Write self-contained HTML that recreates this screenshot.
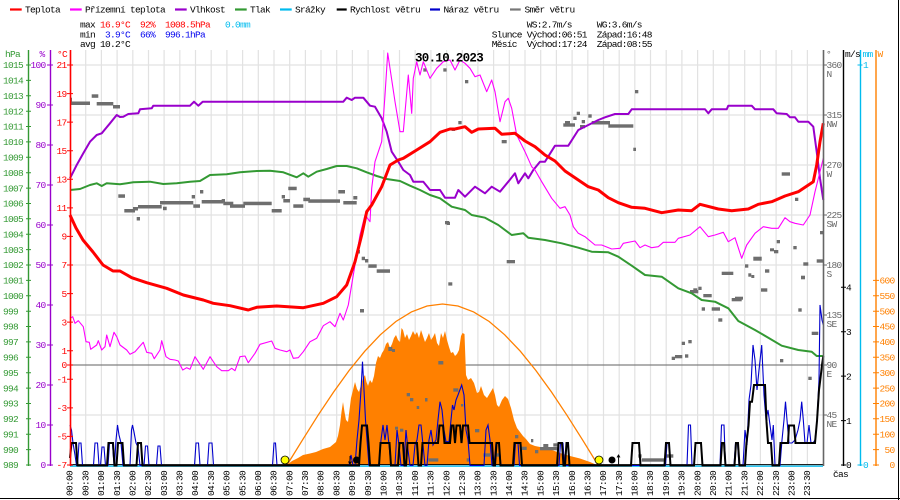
<!DOCTYPE html>
<html><head><meta charset="utf-8"><style>
html,body{margin:0;padding:0;background:#fff;}
svg{display:block;}
text{font-family:"Liberation Mono","DejaVu Sans Mono",monospace;font-size:9.5px;letter-spacing:-0.7px;}
.b{font-weight:bold;font-size:12.5px;letter-spacing:-0.7px;}
</style></head><body>
<svg width="900" height="500" viewBox="0 0 900 500" xmlns="http://www.w3.org/2000/svg">
<rect x="0" y="0" width="900" height="500" fill="#fff"/>
<!-- grid -->
<path d="M85.7 50V465M101.4 50V465M117.1 50V465M132.8 50V465M148.5 50V465M164.1 50V465M179.8 50V465M195.5 50V465M211.2 50V465M226.9 50V465M242.6 50V465M258.3 50V465M274 50V465M289.7 50V465M305.4 50V465M321 50V465M336.7 50V465M352.4 50V465M368.1 50V465M383.8 50V465M399.5 50V465M415.2 50V465M430.9 50V465M446.6 50V465M462.3 50V465M477.9 50V465M493.6 50V465M509.3 50V465M525 50V465M540.7 50V465M556.4 50V465M572.1 50V465M587.8 50V465M603.5 50V465M619.2 50V465M634.8 50V465M650.5 50V465M666.2 50V465M681.9 50V465M697.6 50V465M713.3 50V465M729 50V465M744.7 50V465M760.4 50V465M776.1 50V465M791.7 50V465M807.4 50V465M70 65H823M70 115H823M70 165H823M70 215H823M70 265H823M70 315H823M70 415H823" stroke="#e2e2e2" stroke-width="1.2" fill="none"/>
<line x1="70" y1="365" x2="823" y2="365" stroke="#808080" stroke-width="1.3"/>
<!-- solar -->
<polygon fill="#ff8000" points="287,465 292,461 298,458 303,455 310,453.5 316,452 323,449 330,447 336,442 338,436 340,425 341.5,412 343,402 344.5,412 346,420 348,422 349.5,410 351,398 353,390 355,382 357,389 359,392 361,385 363,378 365,375 366.5,382 368,386 370,380 372,383 374,376 376,363 378,356 380,358 382,353 384,350 386,344 388,342 390,348 392,344 394,338 396,335 398,340 400,342 401.5,328 403,330 405,338 407,334 409,340 411,336 413,331 415,335 417,332 419,338 421,330 423,336 425,342 427,338 429,333 431,340 433,337 435,333 437,343 439,346 441,333 443,338 445,331 447,340 449,347 451,353 453,352 455,356 457,354 459,350 461,336 462.5,333 464.5,334 466,375 468,380 471,378 474,383 477,393 479,392 481,386 484,395 487,398 490,393 493,388 495,395 497,405 499,407 502,400 505,396 508,399 511,408 514,420 517,428 520,432 523,436 526,439 530,444 535,446 540,447 545,448.5 552,450 560,453 570,456 580,458.5 590,462 597,465"/>
<polyline fill="none" stroke="#ff8000" stroke-width="1.3" points="287,465 302.6,439.8 318.1,415.2 333.7,391.9 349.2,370.4 364.8,351.2 380.3,334.8 395.9,321.5 411.4,311.9 427,306 442.5,304 458,306 473.6,311.9 489.2,321.5 504.7,334.8 520.3,351.2 535.8,370.4 551.4,391.9 566.9,415.2 582.5,439.8 598,465"/>
<!-- wind direction squares -->
<g fill="#6e6e6e">
<rect x="70" y="101.5" width="20" height="3.5"/><rect x="91.7" y="94.3" width="6.6" height="3.5"/><rect x="70" y="97.7" width="2" height="4"/><rect x="96.7" y="102" width="16.6" height="3.5"/><rect x="113" y="105" width="7" height="3.5"/>
<rect x="118.3" y="194.3" width="6.7" height="3.5"/><rect x="124.3" y="209" width="10.7" height="3.5"/><rect x="133" y="207" width="5" height="3.5"/><rect x="136.7" y="217" width="3.3" height="3.5"/><rect x="138" y="205" width="23.7" height="3.5"/><rect x="160" y="201" width="5" height="3.5"/><rect x="163" y="206.7" width="3.7" height="3.5"/><rect x="165" y="201" width="28.3" height="3.5"/><rect x="191.7" y="195" width="3.3" height="3.5"/><rect x="193.3" y="204.3" width="6.7" height="3.5"/><rect x="200" y="190" width="3.3" height="3.5"/><rect x="201.7" y="200" width="21.6" height="3.5"/><rect x="221.7" y="199" width="3.3" height="3.5"/><rect x="223.3" y="201.7" width="10" height="3.5"/><rect x="230" y="204.3" width="15" height="3.5"/><rect x="243.3" y="201.7" width="28.4" height="3.5"/><rect x="271.7" y="209" width="10" height="3.5"/><rect x="281.7" y="195" width="3.3" height="3.5"/><rect x="283.3" y="199" width="6.7" height="3.5"/><rect x="288.3" y="186.7" width="8.4" height="3.5"/><rect x="293.3" y="204.3" width="10" height="3.5"/><rect x="303.3" y="197.7" width="6.7" height="3.5"/><rect x="308.3" y="199.3" width="31.7" height="3.5"/><rect x="338.3" y="190" width="6.7" height="3.5"/><rect x="343.3" y="201" width="13.4" height="3.5"/><rect x="353.3" y="196" width="4" height="3.5"/>
<rect x="356.7" y="250" width="3.3" height="3.5"/><rect x="361.7" y="256.7" width="3.3" height="3.5"/><rect x="365" y="259" width="3.3" height="3.5"/><rect x="368.3" y="264.3" width="8.4" height="3.5"/><rect x="376.7" y="269.3" width="13.3" height="3.5"/><rect x="360" y="309" width="4" height="3.5"/>
<rect x="388.3" y="347" width="4" height="4"/><rect x="392" y="349" width="3" height="3"/><rect x="406.7" y="393" width="3.3" height="3.3"/><rect x="410" y="398" width="3.3" height="3.3"/><rect x="416.7" y="406" width="2.5" height="3"/><rect x="425" y="398" width="2.5" height="3.5"/><rect x="438.3" y="361" width="5" height="3.5"/><rect x="395" y="426.7" width="3" height="3"/><rect x="400" y="428.7" width="3.3" height="3"/><rect x="416.7" y="451.7" width="2" height="3"/><rect x="428.3" y="458.3" width="10" height="3.3"/>
<rect x="443.3" y="68.3" width="3.3" height="3.3"/><rect x="423.3" y="68.3" width="3.3" height="3.3"/><rect x="446.7" y="221.7" width="3.3" height="3.3"/><rect x="448.3" y="282.3" width="4" height="3.3"/><rect x="465" y="80" width="3.3" height="3.3"/><rect x="458.3" y="121" width="3.3" height="3.3"/><rect x="451.7" y="127.7" width="3.3" height="3.3"/><rect x="501.7" y="140" width="5" height="3.3"/><rect x="445" y="221" width="4" height="3.3"/><rect x="506.7" y="260" width="8.3" height="3.3"/>
<rect x="563.3" y="123.3" width="11.7" height="3.4"/><rect x="565" y="121" width="5" height="3"/><rect x="576.7" y="111.7" width="3.3" height="3.3"/><rect x="573.3" y="116.7" width="3.3" height="3.3"/><rect x="581.7" y="120" width="3.3" height="3.3"/><rect x="580" y="125" width="5" height="3.3"/><rect x="588.3" y="114.3" width="3.4" height="3.4"/><rect x="591.7" y="121" width="18.3" height="3.5"/><rect x="608.3" y="124.3" width="25" height="3.4"/><rect x="635" y="90" width="3.3" height="3.3"/><rect x="633.3" y="147.7" width="2.7" height="3.3"/>
<rect x="781.7" y="172.3" width="8.3" height="3.4"/><rect x="795" y="197.7" width="3.3" height="3.3"/><rect x="820" y="231" width="4" height="3.3"/><rect x="776.7" y="240" width="3.3" height="3.3"/><rect x="770" y="248.3" width="4" height="3"/><rect x="774" y="250" width="4.3" height="3.3"/><rect x="793.3" y="246" width="3.4" height="3.3"/><rect x="816.7" y="259.3" width="6.6" height="3.4"/><rect x="803.3" y="262.3" width="5" height="3.4"/><rect x="753.3" y="256.7" width="8.4" height="4"/><rect x="745" y="264.3" width="3.3" height="3.4"/><rect x="765" y="269.3" width="4.3" height="3.4"/><rect x="748.3" y="273.3" width="3" height="3.4"/><rect x="751.3" y="275" width="3" height="3"/><rect x="721.7" y="271.7" width="11.6" height="3.3"/><rect x="801" y="275.7" width="4" height="3.6"/><rect x="690" y="290" width="8.3" height="3.3"/><rect x="693.3" y="288.3" width="4" height="3"/><rect x="698.3" y="286.7" width="3.3" height="3.3"/><rect x="703.3" y="294" width="8.4" height="3.3"/><rect x="761" y="288.3" width="6.3" height="3.4"/><rect x="731.7" y="298" width="10" height="3.3"/><rect x="735" y="296.7" width="8" height="3"/><rect x="701.7" y="307.3" width="3.3" height="3.4"/><rect x="711.7" y="307.3" width="8.3" height="3.4"/><rect x="718.3" y="318.3" width="4" height="3.4"/><rect x="798.3" y="308.3" width="3.4" height="3.4"/><rect x="811.7" y="331.7" width="6.6" height="3.3"/><rect x="681.7" y="341.7" width="3.3" height="3.3"/><rect x="688.3" y="340" width="3.4" height="3.3"/><rect x="671.7" y="356.7" width="3.3" height="3.3"/><rect x="675" y="355" width="7.3" height="3.3"/><rect x="685" y="354.3" width="3.3" height="3.4"/><rect x="780" y="359" width="3.3" height="3.3"/><rect x="808.3" y="376.7" width="3.4" height="3.3"/>
<rect x="453.3" y="388.3" width="5" height="3.4"/><rect x="461" y="404" width="2.3" height="2.5"/><rect x="475" y="429" width="4.3" height="3.3"/><rect x="466.7" y="458.3" width="2.3" height="3.3"/><rect x="483.3" y="453.3" width="6.7" height="3.4"/><rect x="496.7" y="453.3" width="3.3" height="3.4"/><rect x="515" y="435" width="3.3" height="3.3"/><rect x="521.7" y="446.7" width="5" height="3.3"/><rect x="531" y="439" width="2.3" height="3.3"/><rect x="535" y="450" width="3.3" height="3.3"/><rect x="540" y="447" width="18.3" height="3.3"/><rect x="543.3" y="444" width="5" height="3"/><rect x="553.3" y="443.3" width="5" height="3.3"/><rect x="641.7" y="458.3" width="23.3" height="3.4"/><rect x="665" y="454.3" width="8.3" height="3.4"/><rect x="638.3" y="454.3" width="3.3" height="3.4"/>
</g>
<!-- series -->
<polyline fill="none" stroke="#339933" stroke-width="2" stroke-linejoin="round" points="70,190 80,189 90,185 96.7,183.3 101.7,186 106.7,183.3 120,184.3 133.3,182.3 150,181.7 163.3,184 176.7,183.3 190,181.7 200,181 210,175 226.7,174.3 240,172.3 256.7,171 270,170.7 283.3,172.3 296.7,177.3 303.3,173.3 308.3,176.7 316.7,171.7 326.7,169 336.7,166 346.7,166 356.7,168.3 366.7,172.3 376.7,176 386.7,179 400,181 410,185.7 420,190 430,195 440,198.3 451.7,206.7 465,210 471.7,215 485,217.7 498.3,225 511.7,235 523.3,233.3 528.3,237.7 545,240 561.7,243.3 578.3,247.7 591.7,251.7 608.3,252.3 618.3,256.7 631.7,265.7 645,275 661.7,276.7 678.3,288.3 691.7,293.3 701.7,300 715,301.7 728.3,308.3 738.3,321 755,330 768.3,337.7 781.7,345.7 798.3,350 811.7,351.7 816.7,356 823.3,356"/>
<polyline fill="none" stroke="#9900cc" stroke-width="2" stroke-linejoin="round" points="70,178.3 76.7,165 83.3,153.3 90,141.7 96.7,135 101.7,133.3 110,123.3 116.7,115 120,117 123.3,116.7 128.3,114 138.3,113.3 140,109.3 151.7,108.3 153.3,105.7 190,105.7 194,101.7 198.3,105.7 202.7,101.7 343.3,101.7 346.7,97.7 351.7,100 355,97.7 363.3,97.7 370,105.7 375,106.7 381.7,118.3 386.7,131.7 391.7,151.7 398.3,161.7 403.3,170 410,175 413.3,181.7 423.3,181.7 430,190 440,190 445,197.7 455,197.7 458.3,190 465,196.7 475,186.7 485,193.3 491.7,186.7 500,191.7 508.3,181.7 515,173.3 518.3,183.3 525,173.3 528.3,178.3 533.3,170 540,161.7 545,161.7 555,145.7 568.3,145.7 578.3,130 588.3,125 598.3,120 605,117.3 615,114 628.3,114 631.7,109.3 705,109.3 708.3,113.3 711.7,109.3 726.7,109.3 728.3,105.7 751.7,105.7 755,109.3 773.3,109.3 776.7,113.3 786.7,114 790,117.3 795,117.3 798.3,121.7 808.3,121.7 813.3,126.7 816.7,151.7 820,178.3 823.3,200"/>
<polyline fill="none" stroke="#ff00ff" stroke-width="1.1" stroke-linejoin="round" points="70,318.3 72.7,316.7 75,323.3 78.3,320.7 83.3,326.7 86,341.7 89.3,342.3 90.7,349.3 96.7,345 98.3,340.7 101.7,350 105,346.7 106.7,335 110,346.7 114,332.3 116.7,336.7 120,345 126.7,350 130,354.3 135,351.7 143.3,342.3 146.7,352.3 151.7,353.3 154.3,358.7 160,350 161.7,340.7 166,356.7 170,359.3 175,360 178.3,361 182.7,370 186.7,367.7 190,369.3 195,356.7 203.3,369.3 210,356.7 216.7,366.7 221.7,370.7 228.3,370.7 231.7,368.3 235,370.7 240,356.7 245,356 248.3,362.7 255,353.3 260,344.3 271.7,341 275,348.3 280,350 286.7,351.7 290,350 293.3,358.3 298.3,357.7 303.3,351.7 310,341.7 316.7,338.3 323.3,325.7 330,321.7 335,326.7 340,313.3 343.3,320 348.3,305 353.3,275 360,235 365,215 370,221.7 371.7,188.3 375,161.7 381.7,141.7 385,95 387.7,53 390,68.3 395,101.7 400,131.7 403.3,131.7 408.3,75 411.7,113.3 413.3,78.3 416.7,61.7 420,75 423.3,61.7 430,78.3 436.7,68.3 443.3,61.7 450,60 455,70 460,60 465,63.3 470,68.3 475,76.7 480,75 486.7,91.7 491.7,80 495,91.7 500,121.7 505,101.7 508.3,98.3 511.7,108.3 516.7,135 525,151.7 531.7,166.7 535,170 541.7,181.7 551.7,198.3 560,208.3 565,206.7 570,215 573.3,226.7 578.3,233.3 585,236.7 595,245 601.7,245 611.7,249 620,248.3 623.3,243.3 635,241 640,247.7 645,245 651.7,247.7 658.3,246.7 663.3,242.3 675,242.3 678.3,238.3 690,235 700,226.7 708.3,236.7 715,235 723.3,232.3 728.3,241.7 735,237.7 741.7,258.3 746.7,245 755,233.3 763.3,226.7 771.7,228.3 778.3,228.3 785,217.7 790,221.7 795,223.3 803.3,225 810,215 815,191.7 820,171.7 823.3,158.3"/>
<polyline fill="none" stroke="#ff0000" stroke-width="3" stroke-linejoin="round" points="70,215 76,228 83,240 93,252 103,265 113,271 120,271 131.7,277.7 146.7,282.7 166.7,288.3 183.3,295 203.3,300 213.3,303.3 230,305.7 248.3,310 256.7,307.3 276.7,306 303.3,307.7 323.3,303.3 336.7,296.7 346.7,285 355,261.7 361.7,235 366.7,211.7 371.7,205 381.7,186.7 390,165 398.3,160 403.3,158.3 416.7,150 430,141.7 440,132.3 450,129 455,129 465,126.7 471.7,132.3 478.3,129 495,128.3 501.7,134.3 515,133.3 525,141 535,146.7 545,155 555,161 565,171 578.3,180 588.3,186.7 598.3,190 608.3,197.7 618.3,202.7 631.7,207.3 645,208.3 661.7,212.7 678.3,210 691.7,210.7 700,204.3 718.3,209 731.7,210.7 748.3,209 758.3,204.3 771.7,201.7 785,196 798.3,191.7 813.3,181.7 816.7,165 820,141.7 823.3,123.3"/>
<!-- precipitation / axis -->
<rect x="70" y="465.5" width="753" height="1.3" fill="#00bbee"/>
<line x1="70" y1="464.6" x2="823" y2="464.6" stroke="#000" stroke-width="1"/>
<polyline fill="none" stroke="#0000cc" stroke-width="1.1" points="70,425 71.5,430 73,443 75,455 76.5,465.5 77.5,465.5 79,443 81,443 82.5,465.5 93.5,465.5 95,443 97.5,443 99,465.5 100.5,465.5 102,447 104,447 105.5,465.5 108,465.5 109.5,443 112.5,443 114,465.5 114.5,465.5 116,440 117.5,425 119,435 121,443 123,465.5 130,465.5 131.5,430 132.5,425 134,432 136,443 138,447 140,465.5 144,465.5 145.5,446 147.5,446 149,465.5 156.5,465.5 158,446 160,446 161.5,465.5 194.5,465.5 196,443 198.5,443 200,465.5 207.5,465.5 209,443 212,443 213.5,465.5 272.5,465.5 274,443 275.5,443 277,465.5 349,465.5 351,455 353,465.5 355,465.5 357,440 359,420 361,390 362.5,361.7 364,390 365.5,420 367,440 369,465.5 379,465.5 381,440 383,425 385,440 387,425 389,445 391,465.5 395,465.5 397,430 399,445 401,465.5 404,465.5 406,430 408,450 410,465.5 413,465.5 415,445 417,440 419,425 421,425 423,445 425,465.5 427,465.5 429,440 431,430 433,445 436,440 438,420 440,401.7 442,410 444,430 446,441.7 449,441.7 451,420 452.5,405 454,410 456,400 458,395 461.7,385 464,395 466,430 468,440 470,465.5 484,465.5 486,430 488,425 490,440 492,465.5 494,465.5 496,443 499,443 501,465.5 514,465.5 515.5,443 518,443 519.5,465.5 559,465.5 560.5,443 563,443 564.5,465.5 665.5,465.5 667,443 669,443 670.5,465.5 687,465.5 688.5,425 690.5,425 692,465.5 694,465.5 695.5,443 701,443 702.5,465.5 720,465.5 721.5,425 724,425 725.5,465.5 734,465.5 735.5,443 737.5,443 739,465.5 743,465.5 745,430 747,445 749,400 751,385 753,345 755,360 757,390 759,370 761.7,345 764,395 766,420 768,410 770,425 772,440 773.3,425 775,465.5 780,465.5 782,440 784,420 785.5,401.7 787,420 789,443 792,443 795,440 798,430 800,420 801.7,401.7 803.3,420 805,443 807,443 809,425 811,443 813,443 815,440 817,420 819,380 820,305 822,320 823.3,325"/>
<polyline fill="none" stroke="#000" stroke-width="2" points="70,458 71.5,443 76,443 77.5,465.5 107,465.5 108.5,443 113,443 114.5,465.5 116.5,465.5 118,443 122.5,443 124,465.5 136.5,465.5 138,443 141,443 142.5,465.5 359,465.5 360.5,443 362,425.5 367,425.5 368.5,443 370,465.5 379,465.5 380.5,443 389.5,443 391,465.5 398,465.5 399.5,443 403,443 404.5,465.5 406,465.5 407.5,443 417,443 418.5,465.5 421,465.5 422.5,443 438,443 439.5,425.5 443,425.5 444.5,443 450,443 451.5,425.5 453.5,425.5 455,443 456.5,425.5 460,425.5 461.5,443 463,425.5 468,425.5 469.5,443 492,443 493.5,465.5 495,465.5 496.5,443 499,443 500.5,465.5 513,465.5 514.5,443 520.5,443 522,465.5 557,465.5 558.5,443 562,443 563.5,465.5 565,465.5 566.5,443 568,443 569.5,465.5 631,465.5 632.5,443 639,443 640.5,465.5 664.5,465.5 666,443 669,443 670.5,465.5 694,465.5 695.5,443 701,443 702.5,465.5 720.5,465.5 722,443 724,443 725.5,465.5 734.5,465.5 736,443 738,443 739.5,465.5 745,465.5 746.5,443 748.5,425.5 750,401.7 752,401.7 754,385 765,385 766.5,421.7 768,443 771,443 772.5,465.5 779,465.5 780.5,443 788,443 789,425.5 794,425.5 795.5,443 815,443 817,421 819,390 820.5,378 822,365 823.3,356"/>
<!-- sun / moon markers -->
<circle cx="285" cy="460" r="4" fill="#ffff00" stroke="#000" stroke-width="0.8"/>
<circle cx="599" cy="460" r="4" fill="#ffff00" stroke="#000" stroke-width="0.8"/>
<circle cx="356.5" cy="460" r="3.5" fill="#000"/>
<circle cx="612" cy="460" r="3.5" fill="#000"/>
<path d="M350 456V464M348.5 461.5L350 464L351.5 461.5" stroke="#000" stroke-width="0.9" fill="none"/>
<path d="M618.5 465V455M617 457.5L618.5 455L620 457.5" stroke="#000" stroke-width="0.9" fill="none"/>
<!-- axes -->
<line x1="28.5" y1="50" x2="28.5" y2="466" stroke="#339933" stroke-width="1.4"/>
<line x1="50.5" y1="50" x2="50.5" y2="466" stroke="#9900cc" stroke-width="1.4"/>
<line x1="70.5" y1="50" x2="70.5" y2="466" stroke="#ff0000" stroke-width="1.6"/>
<line x1="823.5" y1="50" x2="823.5" y2="466" stroke="#666" stroke-width="1.6"/>
<line x1="843.5" y1="50" x2="843.5" y2="466" stroke="#000" stroke-width="1.4"/>
<line x1="860.5" y1="50" x2="860.5" y2="466" stroke="#00bbee" stroke-width="1.4"/>
<line x1="876" y1="50" x2="876" y2="466" stroke="#ff8000" stroke-width="1.4"/>
<!-- ticks -->
<path d="M26 65H31M26 80.4H31M26 95.8H31M26 111.2H31M26 126.5H31M26 141.9H31M26 157.3H31M26 172.7H31M26 188.1H31M26 203.5H31M26 218.8H31M26 234.2H31M26 249.6H31M26 265H31M26 280.4H31M26 295.8H31M26 311.2H31M26 326.5H31M26 341.9H31M26 357.3H31M26 372.7H31M26 388.1H31M26 403.5H31M26 418.8H31M26 434.2H31M26 449.6H31M26 465H31" stroke="#339933" stroke-width="1"/>
<path d="M47 65H53M47 105H53M47 145H53M47 185H53M47 225H53M47 265H53M47 305H53M47 345H53M47 385H53M47 425H53M47 465H53" stroke="#9900cc" stroke-width="1"/>
<path d="M67 65H73M67 93.6H73M67 122.1H73M67 150.7H73M67 179.3H73M67 207.9H73M67 236.4H73M67 265H73M67 293.6H73M67 322.1H73M67 350.7H73M67 365H73M67 379.3H73M67 407.9H73M67 436.4H73M67 465H73" stroke="#ff0000" stroke-width="1"/>
<path d="M823 65H827M823 115H827M823 165H827M823 215H827M823 265H827M823 315H827M823 365H827M823 415H827" stroke="#666" stroke-width="1"/>
<path d="M841 287.2H846M841 331.7H846M841 376.1H846M841 420.6H846M841 465H846" stroke="#000" stroke-width="1"/>
<path d="M857.5 65H862.5M857.5 465H862.5" stroke="#00bbee" stroke-width="1"/>
<path d="M873 280.4H879M873 295.8H879M873 311.2H879M873 326.5H879M873 341.9H879M873 357.3H879M873 372.7H879M873 388.1H879M873 403.5H879M873 418.8H879M873 434.2H879M873 449.6H879M873 465H879" stroke="#ff8000" stroke-width="1"/>
<!-- left labels -->
<g fill="#339933">
<text x="5" y="57">hPa</text>
<text x="3" y="68.2">1015</text><text x="3" y="83.6">1014</text><text x="3" y="99">1013</text><text x="3" y="114.4">1012</text><text x="3" y="129.7">1011</text><text x="3" y="145.1">1010</text><text x="3" y="160.5">1009</text><text x="3" y="175.9">1008</text><text x="3" y="191.3">1007</text><text x="3" y="206.7">1006</text><text x="3" y="222">1005</text><text x="3" y="237.4">1004</text><text x="3" y="252.8">1003</text><text x="3" y="268.2">1002</text><text x="3" y="283.6">1001</text><text x="3" y="299">1000</text><text x="3" y="314.4">999</text><text x="3" y="329.7">998</text><text x="3" y="345.1">997</text><text x="3" y="360.5">996</text><text x="3" y="375.9">995</text><text x="3" y="391.3">994</text><text x="3" y="406.7">993</text><text x="3" y="422">992</text><text x="3" y="437.4">991</text><text x="3" y="452.8">990</text><text x="3" y="468.2">989</text>
</g>
<g fill="#9900cc">
<text x="39.5" y="57">%</text>
<text x="30.5" y="68.2">100</text><text x="35.5" y="108.2">90</text><text x="35.5" y="148.2">80</text><text x="35.5" y="188.2">70</text><text x="35.5" y="228.2">60</text><text x="35.5" y="268.2">50</text><text x="35.5" y="308.2">40</text><text x="35.5" y="348.2">30</text><text x="35.5" y="388.2">20</text><text x="35.5" y="428.2">10</text><text x="40.5" y="468.2">0</text>
</g>
<g fill="#ff0000">
<text x="57" y="57">°C</text>
<text x="56.5" y="68.2">21</text><text x="56.5" y="96.8">19</text><text x="56.5" y="125.3">17</text><text x="56.5" y="153.9">15</text><text x="56.5" y="182.5">13</text><text x="56.5" y="211.1">11</text><text x="61.5" y="239.6">9</text><text x="61.5" y="268.2">7</text><text x="61.5" y="296.8">5</text><text x="61.5" y="325.3">3</text><text x="61.5" y="353.9">1</text><text x="61.5" y="368.2">0</text><text x="56.5" y="382.5">-1</text><text x="56.5" y="411.1">-3</text><text x="56.5" y="439.6">-5</text><text x="56.5" y="468.2">-7</text>
</g>
<!-- right labels -->
<g fill="#666">
<text x="826" y="57">°</text>
<text x="826.5" y="68.2">360</text><text x="826.5" y="77">N</text>
<text x="826.5" y="118.2">315</text><text x="826.5" y="127">NW</text>
<text x="826.5" y="168.2">270</text><text x="826.5" y="177">W</text>
<text x="826.5" y="218.2">225</text><text x="826.5" y="227">SW</text>
<text x="826.5" y="268.2">180</text><text x="826.5" y="277">S</text>
<text x="826.5" y="318.2">135</text><text x="826.5" y="327">SE</text>
<text x="826.5" y="368.2">90</text><text x="826.5" y="377">E</text>
<text x="826.5" y="418.2">45</text><text x="826.5" y="427">NE</text>
</g>
<g fill="#000">
<text x="845" y="57">m/s</text>
<text x="846" y="290.4">4</text><text x="846" y="334.9">3</text><text x="846" y="379.3">2</text><text x="846" y="423.8">1</text><text x="846" y="468.2">0</text>
<text x="833" y="477">čas</text>
</g>
<g fill="#00bbee">
<text x="862.5" y="57">mm</text>
<text x="863" y="68.2">1</text><text x="863" y="468.2">0</text>
</g>
<g fill="#ff8000">
<text x="877.5" y="57">W</text>
<text x="879.5" y="283.6">600</text><text x="879.5" y="299">550</text><text x="879.5" y="314.4">500</text><text x="879.5" y="329.7">450</text><text x="879.5" y="345.1">400</text><text x="879.5" y="360.5">350</text><text x="879.5" y="375.9">300</text><text x="879.5" y="391.3">250</text><text x="879.5" y="406.7">200</text><text x="879.5" y="422">150</text><text x="879.5" y="437.4">100</text><text x="884.5" y="452.8">50</text><text x="889.5" y="468.2">0</text>
</g>
<!-- title -->
<text class="b" x="415" y="61.7" fill="#000">30.10.2023</text>
<!-- legend -->
<g stroke-width="2.2">
<line x1="10" y1="9.5" x2="21.7" y2="9.5" stroke="#ff0000"/>
<line x1="70" y1="9.5" x2="81.7" y2="9.5" stroke="#ff00ff"/>
<line x1="175" y1="9.5" x2="186.7" y2="9.5" stroke="#9900cc"/>
<line x1="235" y1="9.5" x2="246.7" y2="9.5" stroke="#339933"/>
<line x1="280" y1="9.5" x2="291.7" y2="9.5" stroke="#00bbee"/>
<line x1="336.7" y1="9.5" x2="346.7" y2="9.5" stroke="#000"/>
<line x1="430" y1="9.5" x2="440" y2="9.5" stroke="#0000cc"/>
<line x1="510" y1="9.5" x2="520.7" y2="9.5" stroke="#777"/>
</g>
<g fill="#000">
<text x="25" y="12.5">Teplota</text>
<text x="85" y="12.5">Přízemní teplota</text>
<text x="190" y="12.5">Vlhkost</text>
<text x="250" y="12.5">Tlak</text>
<text x="295" y="12.5">Srážky</text>
<text x="350" y="12.5">Rychlost větru</text>
<text x="443.5" y="12.5">Náraz větru</text>
<text x="524.5" y="12.5">Směr větru</text>
</g>
<!-- stats -->
<text x="80" y="27.5" fill="#000">max</text>
<text x="100" y="27.5" fill="#ff0000">16.9°C</text>
<text x="140" y="27.5" fill="#ff0000">92%</text>
<text x="165" y="27.5" fill="#ff0000">1008.5hPa</text>
<text x="225" y="27.5" fill="#00bbee">0.0mm</text>
<text x="80" y="37.5" fill="#000">min</text>
<text x="105" y="37.5" fill="#0000ee">3.9°C</text>
<text x="140" y="37.5" fill="#0000ee">66%</text>
<text x="165" y="37.5" fill="#0000ee">996.1hPa</text>
<text x="80" y="47" fill="#000">avg 10.2°C</text>
<g fill="#000">
<text x="526.7" y="27.5">WS:2.7m/s</text>
<text x="596.7" y="27.5">WG:3.6m/s</text>
<text x="491.7" y="37.5">Slunce</text>
<text x="526.7" y="37.5">Východ:06:51</text>
<text x="596.7" y="37.5">Západ:16:48</text>
<text x="491.7" y="47">Měsíc</text>
<text x="526.7" y="47">Východ:17:24</text>
<text x="596.7" y="47">Západ:08:55</text>
</g>
<!-- time labels -->
<g fill="#000">
<text transform="translate(72.7,496) rotate(-90)">00:00</text>
<text transform="translate(88.4,496) rotate(-90)">00:30</text>
<text transform="translate(104.1,496) rotate(-90)">01:00</text>
<text transform="translate(119.8,496) rotate(-90)">01:30</text>
<text transform="translate(135.5,496) rotate(-90)">02:00</text>
<text transform="translate(151.2,496) rotate(-90)">02:30</text>
<text transform="translate(166.8,496) rotate(-90)">03:00</text>
<text transform="translate(182.5,496) rotate(-90)">03:30</text>
<text transform="translate(198.2,496) rotate(-90)">04:00</text>
<text transform="translate(213.9,496) rotate(-90)">04:30</text>
<text transform="translate(229.6,496) rotate(-90)">05:00</text>
<text transform="translate(245.3,496) rotate(-90)">05:30</text>
<text transform="translate(261,496) rotate(-90)">06:00</text>
<text transform="translate(276.7,496) rotate(-90)">06:30</text>
<text transform="translate(292.4,496) rotate(-90)">07:00</text>
<text transform="translate(308.1,496) rotate(-90)">07:30</text>
<text transform="translate(323.7,496) rotate(-90)">08:00</text>
<text transform="translate(339.4,496) rotate(-90)">08:30</text>
<text transform="translate(355.1,496) rotate(-90)">09:00</text>
<text transform="translate(370.8,496) rotate(-90)">09:30</text>
<text transform="translate(386.5,496) rotate(-90)">10:00</text>
<text transform="translate(402.2,496) rotate(-90)">10:30</text>
<text transform="translate(417.9,496) rotate(-90)">11:00</text>
<text transform="translate(433.6,496) rotate(-90)">11:30</text>
<text transform="translate(449.3,496) rotate(-90)">12:00</text>
<text transform="translate(465,496) rotate(-90)">12:30</text>
<text transform="translate(480.6,496) rotate(-90)">13:00</text>
<text transform="translate(496.3,496) rotate(-90)">13:30</text>
<text transform="translate(512,496) rotate(-90)">14:00</text>
<text transform="translate(527.7,496) rotate(-90)">14:30</text>
<text transform="translate(543.4,496) rotate(-90)">15:00</text>
<text transform="translate(559.1,496) rotate(-90)">15:30</text>
<text transform="translate(574.8,496) rotate(-90)">16:00</text>
<text transform="translate(590.5,496) rotate(-90)">16:30</text>
<text transform="translate(606.2,496) rotate(-90)">17:00</text>
<text transform="translate(621.9,496) rotate(-90)">17:30</text>
<text transform="translate(637.5,496) rotate(-90)">18:00</text>
<text transform="translate(653.2,496) rotate(-90)">18:30</text>
<text transform="translate(668.9,496) rotate(-90)">19:00</text>
<text transform="translate(684.6,496) rotate(-90)">19:30</text>
<text transform="translate(700.3,496) rotate(-90)">20:00</text>
<text transform="translate(716,496) rotate(-90)">20:30</text>
<text transform="translate(731.7,496) rotate(-90)">21:00</text>
<text transform="translate(747.4,496) rotate(-90)">21:30</text>
<text transform="translate(763.1,496) rotate(-90)">22:00</text>
<text transform="translate(778.8,496) rotate(-90)">22:30</text>
<text transform="translate(794.4,496) rotate(-90)">23:00</text>
<text transform="translate(810.1,496) rotate(-90)">23:30</text>
</g>
<!-- frame -->
<line x1="898.5" y1="0" x2="898.5" y2="500" stroke="#000" stroke-width="1"/>
<line x1="0" y1="498.5" x2="900" y2="498.5" stroke="#000" stroke-width="1"/>
</svg>
</body></html>
